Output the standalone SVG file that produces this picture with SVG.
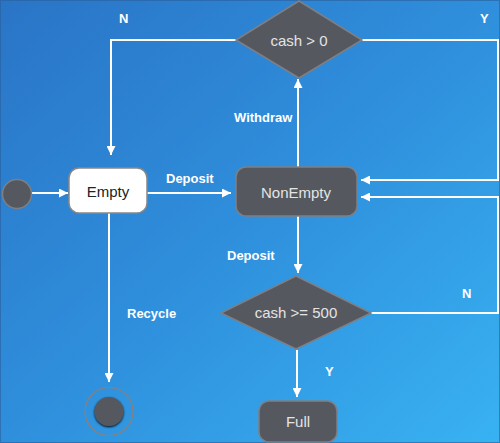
<svg xmlns="http://www.w3.org/2000/svg" width="500" height="443" viewBox="0 0 500 443">
<defs>
<linearGradient id="bg" x1="0" y1="0" x2="1" y2="1">
<stop offset="0" stop-color="#2a74c6"/>
<stop offset="0.5" stop-color="#2f8fdc"/>
<stop offset="1" stop-color="#38b2f2"/>
</linearGradient>
<marker id="ah" viewBox="0 0 10 10" refX="10" refY="5" markerWidth="9" markerHeight="9" markerUnits="userSpaceOnUse" orient="auto">
<path d="M0,0 L10,5 L0,10 Z" fill="#ffffff"/>
</marker>
<filter id="sh" x="-50%" y="-50%" width="200%" height="200%">
<feGaussianBlur in="SourceAlpha" stdDeviation="1.2"/>
<feOffset dx="0" dy="1" result="b"/>
<feMerge><feMergeNode in="b"/><feMergeNode in="SourceGraphic"/></feMerge>
</filter>
</defs>
<style>
.edge{fill:none;stroke:#ffffff;stroke-width:2}
.lbl{font-family:"Liberation Sans",Arial,sans-serif;font-weight:bold;font-size:13px;fill:#ffffff}
.dark{fill:#55585f;stroke:#7d7f84;stroke-width:1.5}
.nt{font-family:"Liberation Sans",Arial,sans-serif;font-size:15px;fill:#e4e4e4;text-anchor:middle;dominant-baseline:central}
</style>
<rect x="0" y="0" width="500" height="443" fill="url(#bg)"/>
<rect x="0.5" y="0.5" width="499" height="442" fill="none" stroke="#2a5f9a" stroke-width="1" opacity="0.6"/>

<g id="connectors">
<line class="edge" x1="32" y1="193" x2="68" y2="193" marker-end="url(#ah)"/>
<line class="edge" x1="147" y1="193" x2="231" y2="193" marker-end="url(#ah)"/>
<line class="edge" x1="298" y1="167" x2="298" y2="79" marker-end="url(#ah)"/>
<polyline class="edge" points="236,40 111,40 111,155" marker-end="url(#ah)"/>
<polyline class="edge" points="362,40 498,40 498,180 361,180" marker-end="url(#ah)"/>
<line class="edge" x1="298" y1="216" x2="298" y2="273" marker-end="url(#ah)"/>
<polyline class="edge" points="371,313 498,313 498,197 361,197" marker-end="url(#ah)"/>
<line class="edge" x1="297" y1="350" x2="297" y2="397" marker-end="url(#ah)"/>
<line class="edge" x1="109" y1="213" x2="109" y2="382" marker-end="url(#ah)"/>
<text class="lbl" x="166" y="183">Deposit</text>
<text class="lbl" x="234" y="122">Withdraw</text>
<text class="lbl" x="119" y="23">N</text>
<text class="lbl" x="480" y="23">Y</text>
<text class="lbl" x="227" y="260">Deposit</text>
<text class="lbl" x="462" y="298">N</text>
<text class="lbl" x="325" y="376">Y</text>
<text class="lbl" x="127" y="318">Recycle</text>
</g>

<g id="start">
<circle cx="17" cy="194" r="14.5" class="dark"/>
</g>

<g id="empty">
<rect x="69" y="168" width="78" height="45" rx="10" fill="#ffffff" stroke="#888888" stroke-width="1.5"/>
<text class="nt" x="108" y="191" style="fill:#222222">Empty</text>
</g>

<g id="nonempty">
<rect x="236" y="167" width="121" height="49" rx="10" class="dark"/>
<text class="nt" x="296" y="192">NonEmpty</text>
</g>

<g id="cash-gt-0">
<polygon points="299,1 362,40 299,78 236,40" class="dark"/>
<text class="nt" x="299" y="40">cash &gt; 0</text>
</g>

<g id="cash-ge-500">
<polygon points="296,276 371,313 296,349 221,313" class="dark"/>
<text class="nt" x="296" y="312">cash &gt;= 500</text>
</g>

<g id="full">
<rect x="259" y="401" width="78" height="41" rx="10" class="dark"/>
<text class="nt" x="298" y="421">Full</text>
</g>

<g id="end">
<circle cx="109" cy="411.5" r="24" fill="none" stroke="#8c7f7c" stroke-width="1.2"/>
<circle cx="109" cy="411.5" r="14.5" fill="#55585f" filter="url(#sh)"/>
</g>
</svg>
